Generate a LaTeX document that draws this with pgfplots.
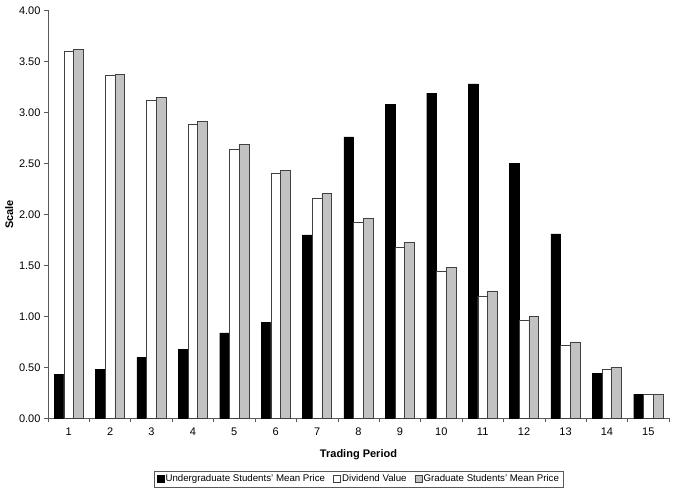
\documentclass[border=0pt]{standalone}
\usepackage{fontspec}
\setmainfont{Liberation Sans}
\usepackage{pgfplots}
\pgfplotsset{compat=1.18}
\definecolor{bargray}{gray}{0.76}
\definecolor{edge}{gray}{0.25}
\begin{document}
\begin{tikzpicture}
\begin{axis}[
  scale only axis,
  width=621pt, height=408pt,
  ybar=0pt, bar width=0.235,
  xmin=0.5, xmax=15.5, ymin=0, ymax=4,
  axis x line*=bottom, axis y line*=left,
  axis line style={gray!70!black, line width=0.6pt},
  xtick={1,...,15},
  major x tick style={draw=none},
  minor xtick={0.5,1.5,...,15.5},
  minor x tick style={gray!70!black, line width=0.6pt},
  minor tick length=4pt,
  ytick={0,0.5,...,4},
  y tick style={gray!70!black, line width=0.6pt},
  major tick length=4pt,
  tick align=outside,
  yticklabel style={/pgf/number format/fixed, /pgf/number format/precision=2, /pgf/number format/fixed zerofill},
  xticklabel style={yshift=-2pt},
  /pgf/number format/assume math mode=true,
  tick label style={font=\fontsize{11}{13}\selectfont},
  xlabel={\bfseries Trading Period},
  ylabel={\bfseries Scale},
  label style={font=\fontsize{11}{13}\selectfont},
  xlabel style={yshift=-7pt},
  ylabel style={yshift=-1pt},
  legend columns=3,
  legend style={at={(0.5,-0.1287)}, anchor=north, draw=gray!70!black, line width=0.5pt,
    font=\fontsize{9.7}{12}\selectfont, inner ysep=1.5pt, inner xsep=3pt,
    /tikz/every even column/.append style={column sep=0pt},
    nodes={inner xsep=1.2pt}},
  legend image code/.code={\draw[#1] (0pt,-3.5pt) rectangle (7pt,3.5pt);},
]
\addplot[fill=black, draw=black] coordinates {
(1,0.43) (2,0.48) (3,0.60) (4,0.68) (5,0.84) (6,0.94) (7,1.80) (8,2.76)
(9,3.08) (10,3.19) (11,3.28) (12,2.50) (13,1.81) (14,0.44) (15,0.24)};
\addplot[fill=white, draw=edge, line width=0.6pt] coordinates {
(1,3.60) (2,3.36) (3,3.12) (4,2.88) (5,2.64) (6,2.40) (7,2.16) (8,1.92)
(9,1.68) (10,1.44) (11,1.20) (12,0.96) (13,0.72) (14,0.48) (15,0.24)};
\addplot[fill=bargray, draw=edge, line width=0.6pt] coordinates {
(1,3.62) (2,3.37) (3,3.15) (4,2.91) (5,2.69) (6,2.43) (7,2.21) (8,1.96)
(9,1.73) (10,1.48) (11,1.25) (12,1.00) (13,0.75) (14,0.50) (15,0.24)};
\legend{Undergraduate Students' Mean Price\rule{7pt}{0pt}, Dividend Value\rule{7pt}{0pt}, Graduate Students' Mean Price}
\end{axis}
\path (current axis.south west) ++(-48pt,-73.5pt);
\path (current axis.north east) ++(12pt,10.5pt);
\end{tikzpicture}
\end{document}
